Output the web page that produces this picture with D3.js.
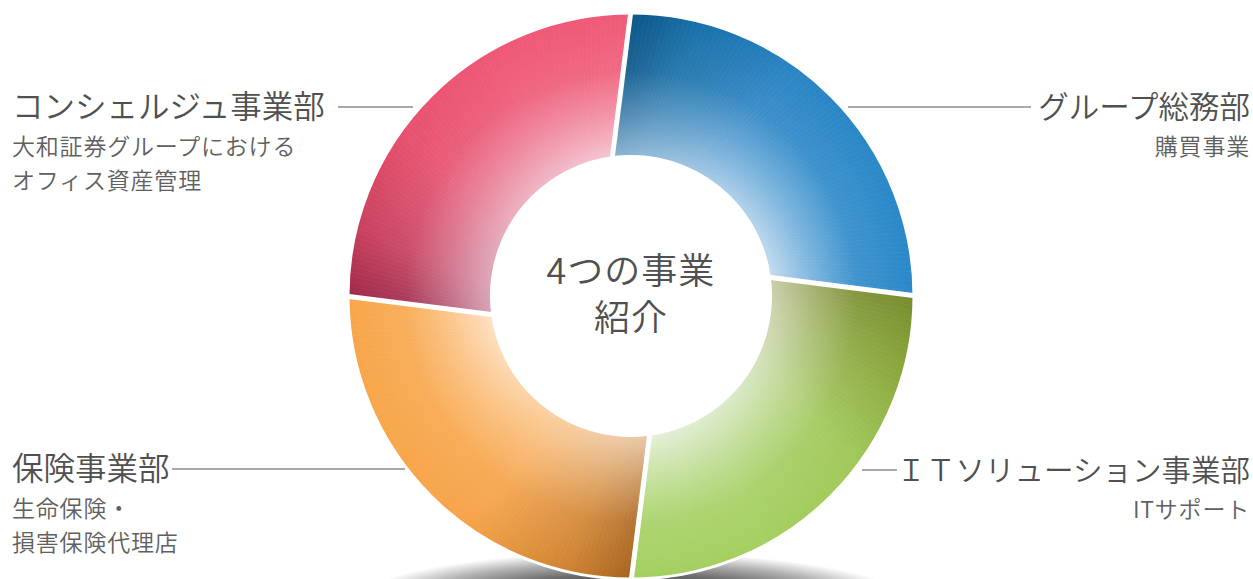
<!DOCTYPE html>
<html lang="ja">
<head>
<meta charset="utf-8">
<script src="https://cdn.jsdelivr.net/npm/d3@7"></script>
<style>
  html, body { margin: 0; padding: 0; background: #fff; }
  svg { display: block; }
  text { font-family: "Noto Sans CJK JP", "Noto Sans", sans-serif; font-weight: 350; }
  .title { fill: #505050; }
  .sub { fill: #606060; font-size: 23px; letter-spacing: 0.8px; }
  .center { fill: #505050; font-size: 36px; letter-spacing: 1px; }
  .leader { stroke: #555; stroke-width: 1.2; }
</style>
</head>
<body>
<div id="container"></div>
<script>
const WIDTH = 1253;
const HEIGHT = 579;

// data
const divisions = ['コンシェルジュ事業部', 'グループ総務部', 'ＩＴソリューション事業部', '保険事業部'];
const shares = [25, 25, 25, 25];
const details = [
  ['大和証券グループにおける', 'オフィス資産管理'],
  ['購買事業'],
  ['ITサポート'],
  ['生命保険・', '損害保険代理店'],
];
const centerLines = ['4つの事業', '紹介'];

// colours: outer edge along the segment, inner edge start / end
const outerStops = [
  ['#a02848', '#c8405e', '#e8506e', '#ef5876', '#ef5a76'],
  ['#0a5486', '#1870a8', '#2a84c4', '#2a88c8', '#2a88c8'],
  ['#768c2c', '#88a43a', '#a0c858', '#a4d060', '#a4d060'],
  ['#a8641e', '#d08432', '#f6a44a', '#f7a64a', '#f7a64a'],
];
const innerStops = [
  ['#d4a2b4', '#ecb0c0', '#f6c4d0'],
  ['#86b0d0', '#a8cce8', '#c4dcf0'],
  ['#c8cca8', '#d8e8c4', '#e4f0d8'],
  ['#e8c8a8', '#fcd0a0', '#fde2c4'],
];

const cx = 631;
const cy = 296;
const R = 282;
const r = 141;
const twist = (-8 * Math.PI) / 180;
const SLICES = 90;

const svg = d3
  .select('#container')
  .append('svg')
  .attr('width', WIDTH)
  .attr('height', HEIGHT);

const defs = svg.append('defs');

// floor shadow
const shadowGrad = defs
  .append('radialGradient')
  .attr('id', 'shadow');
[
  [0, 1],
  [0.55, 0.9],
  [0.8, 0.45],
  [1, 0],
].forEach(([o, a]) =>
  shadowGrad
    .append('stop')
    .attr('offset', o)
    .attr('stop-color', '#555')
    .attr('stop-opacity', a)
);

svg
  .append('ellipse')
  .attr('cx', cx)
  .attr('cy', 604)
  .attr('rx', 280)
  .attr('ry', 52)
  .attr('fill', 'url(#shadow)');

const pie = d3
  .pie()
  .sort(null)
  .startAngle(-Math.PI / 2)
  .endAngle((3 * Math.PI) / 2);

const arcs = pie(shares);

const pt = (a, rad) => [cx + rad * Math.sin(a), cy - rad * Math.cos(a)];

const ring = svg.append('g').attr('class', 'ring');

arcs.forEach((d, i) => {
  const outerColor = d3
    .scaleLinear()
    .domain([0, 0.15, 0.4, 0.7, 1])
    .range(outerStops[i])
    .interpolate(d3.interpolateRgb);
  const innerColor = d3
    .scaleLinear()
    .domain([0, 0.5, 1])
    .range(innerStops[i])
    .interpolate(d3.interpolateRgb);
  const angle = d3.scaleLinear().domain([0, 1]).range([d.startAngle, d.endAngle]);

  const slices = d3.range(SLICES).map((k) => ({ t0: k / SLICES, t1: (k + 1) / SLICES }));

  slices.forEach((s, k) => {
    const id = `g${i}-${k}`;
    const tm = (s.t0 + s.t1) / 2;
    const [ix, iy] = pt(angle(tm) + twist, r);
    const [ox, oy] = pt(angle(tm), R);
    const inner = innerColor(tm);
    const outer = outerColor(tm);
    const g = defs
      .append('linearGradient')
      .attr('id', id)
      .attr('gradientUnits', 'userSpaceOnUse')
      .attr('x1', ix)
      .attr('y1', iy)
      .attr('x2', ox)
      .attr('y2', oy);
    [
      [0, inner],
      [0.3, d3.interpolateRgb(inner, outer)(0.45)],
      [0.6, d3.interpolateRgb(inner, outer)(0.85)],
      [1, outer],
    ].forEach(([o, c]) => g.append('stop').attr('offset', o).attr('stop-color', c));

    const a0 = angle(s.t0);
    const a1 = angle(s.t1);
    const p = d3.path();
    const [sx, sy] = pt(a0, R);
    p.moveTo(sx, sy);
    p.arc(cx, cy, R, a0 - Math.PI / 2, a1 - Math.PI / 2);
    const [ex, ey] = pt(a1 + twist, r);
    p.lineTo(ex, ey);
    p.arc(cx, cy, r, a1 + twist - Math.PI / 2, a0 + twist - Math.PI / 2, true);
    p.closePath();

    ring
      .append('path')
      .attr('d', p.toString())
      .attr('fill', `url(#${id})`)
      .attr('stroke', `url(#${id})`)
      .attr('stroke-width', 0.8);
  });
});

// white rims and separators
svg
  .append('circle')
  .attr('cx', cx)
  .attr('cy', cy)
  .attr('r', R + 1)
  .attr('fill', 'none')
  .attr('stroke', '#fff')
  .attr('stroke-width', 3);

svg
  .append('circle')
  .attr('cx', cx)
  .attr('cy', cy)
  .attr('r', r - 1)
  .attr('fill', '#fff')
  .attr('stroke', '#fff')
  .attr('stroke-width', 2);

svg
  .append('g')
  .selectAll('line')
  .data(arcs)
  .enter()
  .append('line')
  .attr('x1', (d) => pt(d.startAngle, R + 4)[0])
  .attr('y1', (d) => pt(d.startAngle, R + 4)[1])
  .attr('x2', (d) => pt(d.startAngle + twist, r - 4)[0])
  .attr('y2', (d) => pt(d.startAngle + twist, r - 4)[1])
  .attr('stroke', '#fff')
  .attr('stroke-width', 5);

// center label
svg
  .append('text')
  .attr('class', 'center')
  .attr('text-anchor', 'middle')
  .selectAll('tspan')
  .data(centerLines)
  .enter()
  .append('tspan')
  .attr('x', cx)
  .attr('y', (d, i) => 284 + i * 47)
  .text((d) => d);

// labels
const labelPos = [
  { x: 12, y: 107, anchor: 'start', line: [338, 413], size: 31.5 },
  { x: 1250, y: 107, anchor: 'end', line: [848, 1031], size: 30.5 },
  { x: 1250, y: 470, anchor: 'end', line: [862, 897], size: 29.5 },
  { x: 12, y: 469, anchor: 'start', line: [172, 405], size: 31.5 },
];

const label = svg
  .append('g')
  .selectAll('g')
  .data(divisions)
  .enter()
  .append('g');

label
  .append('line')
  .attr('class', 'leader')
  .attr('x1', (d, i) => labelPos[i].line[0])
  .attr('x2', (d, i) => labelPos[i].line[1])
  .attr('y1', (d, i) => labelPos[i].y)
  .attr('y2', (d, i) => labelPos[i].y);

label
  .append('text')
  .attr('class', 'title')
  .attr('x', (d, i) => labelPos[i].x)
  .attr('y', (d, i) => labelPos[i].y + 11)
  .attr('font-size', (d, i) => `${labelPos[i].size}px`)
  .attr('text-anchor', (d, i) => labelPos[i].anchor)
  .text((d) => d);

label
  .append('text')
  .attr('class', 'sub')
  .attr('text-anchor', (d, i) => labelPos[i].anchor)
  .selectAll('tspan')
  .data((d, i) => details[i].map((t) => ({ t, i })))
  .enter()
  .append('tspan')
  .attr('x', (d) => labelPos[d.i].x)
  .attr('y', (d, j) => labelPos[d.i].y + 48 + j * 34)
  .text((d) => d.t);
</script>
</body>
</html>
